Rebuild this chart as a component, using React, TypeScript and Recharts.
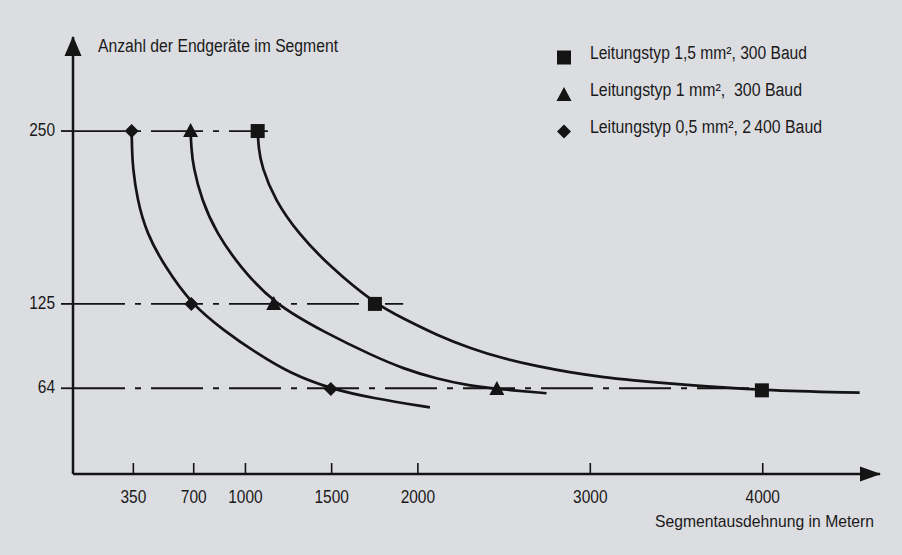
import { ComposedChart, Line, Scatter, XAxis, YAxis, ReferenceLine, ReferenceDot } from "recharts";

const BG = "#dcdde1";
const INK = "#141414";
const TEXT = "#1a1a1a";
const FONT = '"Liberation Sans", Arial, sans-serif';

const X_TICKS = [350, 700, 1000, 1500, 2000, 3000, 4000];
const Y_TICKS = [64, 125, 250];
const X_MAX = 4680;
const Y_MIN = 2;
const Y_MAX = 318;

// curves (metres / devices)
const SQ_X = [1071, 1076, 1094, 1171, 1306, 1490, 1751, 1915, 2108, 2301, 2494, 2688, 2881, 3074, 3229, 3536, 3995, 4562];
const SQ_Y = [250, 238, 224.2, 200.1, 176, 151.9, 125, 114.5, 102.5, 93, 85.5, 80, 75.5, 72, 70, 66.5, 62.5, 60.8];
const TRI_X = [682, 686, 697, 746, 833, 968, 1164, 1471, 1733, 1915, 2108, 2301, 2458, 2746];
const TRI_Y = [250, 238, 224.2, 200.1, 176, 151.9, 125, 103.7, 87.8, 78.2, 70.8, 65.8, 63.5, 60.4];
const DIA_X = [340, 342, 346, 373, 427, 533, 686, 871, 1065, 1258, 1495, 1741, 2070];
const DIA_Y = [250, 238, 224.2, 200.1, 176, 151.9, 125, 106.1, 89.3, 74.8, 63.5, 56.7, 50.2];

// marker positions
const SQ_MARK_X = [1071, 1751, 3995];
const SQ_MARK_Y = [250, 125, 62.5];
const TRI_MARK_X = [682, 1164, 2458];
const TRI_MARK_Y = [250, 125, 63.5];
const DIA_MARK_X = [340, 686, 1495];
const DIA_MARK_Y = [250, 125, 63.5];

// dash-dot guide lines: level and where each one stops
const GUIDE_Y = [250, 125, 64];
const GUIDE_END = [1130, 1915, 3995];

const LEGEND_SHAPES = ["square", "triangle", "diamond"];
const LEGEND_LABELS = [
  "Leitungstyp 1,5 mm², 300 Baud",
  "Leitungstyp 1 mm²,  300 Baud",
  "Leitungstyp 0,5 mm², 2\u2009400 Baud",
];

// legend text widths in px
const LEGEND_WIDTHS = [217, 212, 232];

const zip = (xs: number[], ys: number[]) => xs.map((x, i) => ({ x, y: ys[i] }));

const square = (p: any) => <rect x={p.cx - 7} y={p.cy - 7} width={14} height={14} fill={INK} />;
const triangle = (p: any) => (
  <polygon points={`${p.cx},${p.cy - 8} ${p.cx - 7.5},${p.cy + 6} ${p.cx + 7.5},${p.cy + 6}`} fill={INK} />
);
const diamond = (p: any) => (
  <polygon points={`${p.cx},${p.cy - 7} ${p.cx + 7},${p.cy} ${p.cx},${p.cy + 7} ${p.cx - 7},${p.cy}`} fill={INK} />
);
const SHAPES: Record<string, (p: any) => any> = { square, triangle, diamond };

const numText = (v: number) => String(v).length * 8.6;

const XTick = (p: any) => (
  <g>
    <line x1={p.x} x2={p.x} y1={p.y} y2={p.y - 11} stroke={INK} strokeWidth={1.6} />
    <text
      x={p.x}
      y={p.y + 29}
      textAnchor="middle"
      fontSize={18}
      fontFamily={FONT}
      fill={TEXT}
      textLength={numText(p.payload.value)}
      lengthAdjust="spacingAndGlyphs"
    >
      {p.payload.value}
    </text>
  </g>
);

const YTick = (p: any) => (
  <text
    x={p.x}
    y={p.y + 5}
    textAnchor="end"
    fontSize={18}
    fontFamily={FONT}
    fill={TEXT}
    textLength={numText(p.payload.value)}
    lengthAdjust="spacingAndGlyphs"
  >
    {p.payload.value}
  </text>
);

const upArrow = (p: any) => (
  <polygon points={`${p.cx},${p.cy - 1} ${p.cx - 8.5},${p.cy + 19} ${p.cx + 8.5},${p.cy + 19}`} fill={INK} />
);
const rightArrow = (p: any) => (
  <polygon points={`${p.cx + 1},${p.cy} ${p.cx - 20},${p.cy - 7.5} ${p.cx - 20},${p.cy + 7.5}`} fill={INK} />
);

export default function App() {
  const series = [
    { name: "sq", curve: zip(SQ_X, SQ_Y), marks: zip(SQ_MARK_X, SQ_MARK_Y), shape: square },
    { name: "tri", curve: zip(TRI_X, TRI_Y), marks: zip(TRI_MARK_X, TRI_MARK_Y), shape: triangle },
    { name: "dia", curve: zip(DIA_X, DIA_Y), marks: zip(DIA_MARK_X, DIA_MARK_Y), shape: diamond },
  ];

  return (
    <div style={{ position: "fixed", left: 0, top: 0, width: 902, height: 555, background: BG }}>
      <ComposedChart width={902} height={555} margin={{ top: 37, right: 22, bottom: 41, left: 13 }}>
        <XAxis
          type="number"
          dataKey="x"
          domain={[0, X_MAX]}
          ticks={X_TICKS}
          interval={0}
          allowDataOverflow
          height={40}
          tickSize={0}
          tickMargin={0}
          tick={XTick}
          axisLine={{ stroke: INK, strokeWidth: 2.5 }}
          tickLine={false}
        />
        <YAxis
          type="number"
          dataKey="y"
          domain={[Y_MIN, Y_MAX]}
          ticks={Y_TICKS}
          interval={0}
          allowDataOverflow
          width={60}
          tickSize={12}
          tickMargin={6}
          tick={YTick}
          axisLine={{ stroke: INK, strokeWidth: 2.5 }}
          tickLine={{ stroke: INK, strokeWidth: 1.8 }}
        />
        {GUIDE_Y.map((y, i) => (
          <ReferenceLine
            key={y}
            segment={[{ x: 0, y }, { x: GUIDE_END[i], y }]}
            stroke={INK}
            strokeWidth={1.8}
            strokeDasharray="52 10 6 10"
            ifOverflow="visible"
          />
        ))}
        {series.map((s) => (
          <Line
            key={s.name}
            data={s.curve}
            dataKey="y"
            type="basis"
            stroke={INK}
            strokeWidth={2.7}
            dot={false}
            activeDot={false}
            isAnimationActive={false}
          />
        ))}
        {series.map((s) => (
          <Scatter key={s.name + "m"} data={s.marks} dataKey="y" shape={s.shape} isAnimationActive={false} />
        ))}
        <ReferenceDot x={0} y={Y_MAX} r={0} shape={upArrow} ifOverflow="visible" />
        <ReferenceDot x={X_MAX} y={Y_MIN} r={0} shape={rightArrow} ifOverflow="visible" />
      </ComposedChart>
      <svg width={902} height={555} style={{ position: "absolute", left: 0, top: 0, pointerEvents: "none" }}>
        <text x={98} y={52} fontSize={18} fontFamily={FONT} fill={TEXT} textLength={240} lengthAdjust="spacingAndGlyphs">
          Anzahl der Endgeräte im Segment
        </text>
        <text x={655} y={527} fontSize={17} fontFamily={FONT} fill={TEXT} textLength={219} lengthAdjust="spacingAndGlyphs">
          Segmentausdehnung in Metern
        </text>
        {LEGEND_LABELS.map((label, i) => {
          const cy = 58 + i * 37;
          const shape = LEGEND_SHAPES[i];
          return (
            <g key={label}>
              {SHAPES[shape]({ cx: 564, cy: cy + (shape === "triangle" ? 0 : -0.5) })}
              <text
                x={590}
                y={cy + 0.5}
                fontSize={18}
                fontFamily={FONT}
                fill={TEXT}
                xmlSpace="preserve"
                textLength={LEGEND_WIDTHS[i]}
                lengthAdjust="spacingAndGlyphs"
              >
                {label}
              </text>
            </g>
          );
        })}
      </svg>
    </div>
  );
}
